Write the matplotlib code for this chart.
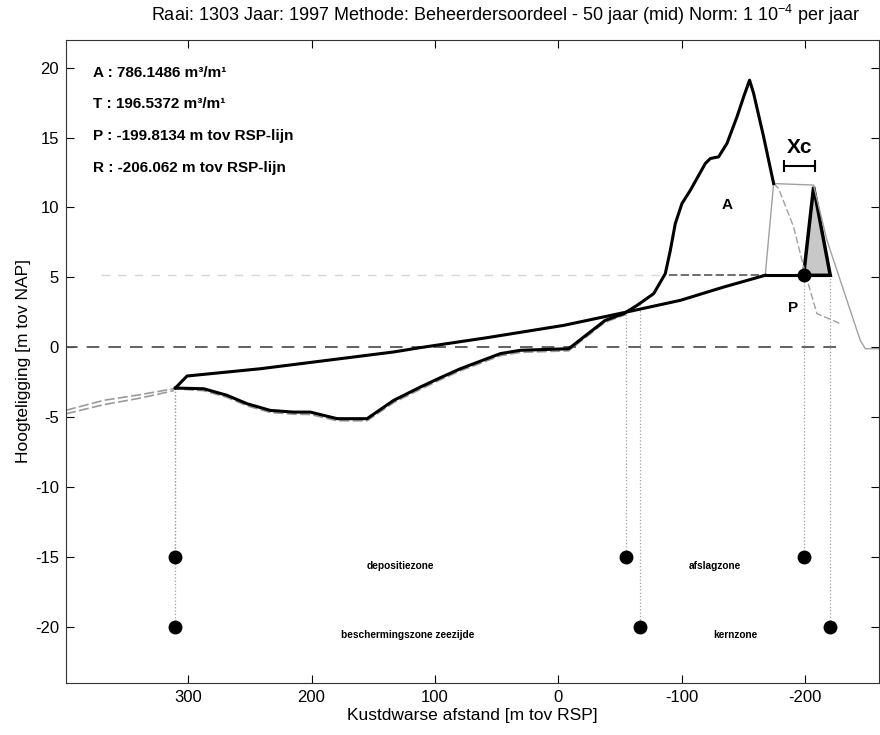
import numpy as np
import matplotlib.pyplot as plt

plt.rcParams["font.family"] = ["Liberation Sans", "DejaVu Sans"]
plt.rcParams["mathtext.fontset"] = "custom"
plt.rcParams["mathtext.rm"] = "Liberation Sans"
plt.rcParams["mathtext.bf"] = "Liberation Sans:bold"
plt.rcParams["axes.unicode_minus"] = False

# gemeten profiel (dik zwart)
prof_x = [310.4, 287.4, 268.5, 252.3, 233.4, 214.5, 201.0, 179.3, 155.0, 133.4,
          111.8, 95.6, 79.4, 47.0, 30.8, -8.4, -38.0, -53.0, -63.8, -77.3,
          -86.7, -90.8, -94.8, -100.2, -107.0, -119.1, -123.2, -129.9, -136.7,
          -144.8, -150.2, -155.0, -158.3, -166.4, -174.5]
prof_y = [-2.91, -2.96, -3.43, -4.03, -4.51, -4.63, -4.63, -5.10, -5.10, -3.79,
          -2.84, -2.17, -1.53, -0.45, -0.21, -0.10, 1.93, 2.41, 3.00, 3.84,
          5.27, 6.94, 8.85, 10.28, 11.23, 13.14, 13.50, 13.62, 14.58,
          16.48, 17.91, 19.10, 18.15, 15.05, 11.71]

# oorspronkelijk profiel (grijs, onder het zwarte)
orig_x = [399, 368.5, 340.0, 311.7, 287.4, 268.5, 252.3, 233.4, 214.5, 201.0,
          179.3, 155.0, 133.4, 111.8, 95.6, 79.4, 47.0, 30.8, -8.4, -38.0, -55.0]
orig_y = [-4.50, -3.79, -3.40, -2.96, -3.10, -3.58, -4.18, -4.66, -4.78, -4.80,
          -5.25, -5.25, -3.95, -3.00, -2.32, -1.68, -0.60, -0.36, -0.25, 1.80, 2.35]
orig2_x = [399, 368.5, 340.0, 311.7]
orig2_y = [-4.75, -4.10, -3.65, -3.10]

# achterkant duin (grijs gestreept)
back_x = [-174.5, -178.5, -190.7, -200.2, -209.6, -228.5]
back_y = [11.71, 11.36, 8.61, 5.27, 2.41, 1.70]

# grensprofiel (grijs)
grens_x = [-167.7, -174.5, -206.9, -217.7, -244.7, -248.8, -262.0]
grens_y = [5.15, 11.71, 11.60, 7.66, 0.50, -0.10, -0.10]

# DUROS afslagprofiel (dik zwart)
duros_x = [310.4, 300.9, 241.5, 187.4, 133.4, 111.8, 57.8, -4.3, -55.7, -98.9,
           -134.0, -167.7]
duros_y = [-2.91, -2.05, -1.53, -0.93, -0.33, -0.02, 0.69, 1.57, 2.53, 3.36,
           4.31, 5.15]

rekenpeil = 5.15
afslag_x = [-167.7, -220.4]
tri_x = [-198.8, -206.9, -220.4]
tri_y = [5.15, 11.47, 5.15]
P_x, R_x = -198.8, -220.4
xc_left, xc_right, xc_y = -182.6, -208.3, 12.97

# zone grenzen
zone_top_x = [310.4, -54.5, -198.8]
zone_top_start = [-2.91, 2.4, 5.15]
zone_bot_x = [310.4, -66.5, -220.4]
zone_bot_start = [-2.91, 3.1, 5.15]
zone_top_labels = ["depositiezone", "afslagzone"]
zone_bot_labels = ["beschermingszone zeezijde", "kernzone"]

info = ["A : 786.1486 m³/m¹",
        "T : 196.5372 m³/m¹",
        "P : -199.8134 m tov RSP-lijn",
        "R : -206.062 m tov RSP-lijn"]
info_y = [19.6, 17.4, 15.1, 12.8]

fig = plt.figure(figsize=(8.8, 7.35), dpi=100)
ax = fig.add_axes([0.075, 0.0707, 0.924, 0.8754])

# hulplijnen
ax.plot([400, -228.5], [0, 0], color="#555555", lw=1.3, dashes=(7, 5))
ax.plot([371, -89.4], [rekenpeil, rekenpeil], color="#d5d5d5", lw=1, dashes=(6, 6))
ax.plot([-89.4, -167.7], [rekenpeil, rekenpeil], color="#555555", lw=1.2, dashes=(5, 2))

# grijze profielen
ax.plot(orig_x, orig_y, color="#9a9a9a", lw=1.2, dashes=(6, 2))
ax.plot(orig2_x, orig2_y, color="#9a9a9a", lw=1.2, dashes=(6, 2))
ax.plot(back_x, back_y, color="#a0a0a0", lw=1, dashes=(5, 2))
ax.plot(grens_x, grens_y, color="#a0a0a0", lw=1)

# verticale stippellijnen
for x0, y0 in zip(zone_top_x, zone_top_start):
    ax.plot([x0, x0], [y0, -15], color="#a0a0a0", lw=0.9, ls=":")
for x0, y0 in zip(zone_bot_x, zone_bot_start):
    ax.plot([x0, x0], [y0, -20], color="#a0a0a0", lw=0.9, ls=":")

# zwarte profielen
ax.plot(duros_x, duros_y, color="black", lw=2.2)
ax.plot(prof_x, prof_y, color="black", lw=2.2)
ax.plot(afslag_x, [rekenpeil, rekenpeil], color="black", lw=2.2)
ax.fill(tri_x, tri_y, facecolor="#c8c8c8", edgecolor="black", lw=2.5)
ax.plot([P_x], [rekenpeil], "o", color="black", ms=9)

# Xc
ax.plot([xc_left, xc_right], [xc_y, xc_y], color="black", lw=1.5,
        marker="|", ms=8, mew=1.5)
ax.text((xc_left + xc_right) / 2, 14.3, "Xc", ha="center", va="center",
        fontsize=15, fontweight="bold")
ax.text(-137, 10.2, "A", ha="center", va="center", fontsize=11, fontweight="bold")
ax.text(-190.5, 2.8, "P", ha="center", va="center", fontsize=11, fontweight="bold")

# zones
ax.plot(zone_top_x, [-15] * 3, "o", color="black", ms=9, ls="none")
ax.plot(zone_bot_x, [-20] * 3, "o", color="black", ms=9, ls="none")
for i, lab in enumerate(zone_top_labels):
    ax.text((zone_top_x[i] + zone_top_x[i + 1]) / 2, -15.6, lab, ha="center",
            va="center", fontsize=7.3, fontweight="bold")
for i, lab in enumerate(zone_bot_labels):
    ax.text((zone_bot_x[i] + zone_bot_x[i + 1]) / 2, -20.6, lab, ha="center",
            va="center", fontsize=7.3, fontweight="bold")

for s, y in zip(info, info_y):
    ax.text(377, y, s, ha="left", va="center", fontsize=11, fontweight="bold")

ax.set_xlim(399, -260)
ax.set_ylim(-24, 22)
ax.set_xticks([300, 200, 100, 0, -100, -200])
ax.set_yticks(np.arange(-20, 21, 5))
ax.tick_params(direction="in", top=True, right=True, labelsize=12, length=6,
               pad=5)
for sp in ax.spines.values():
    sp.set_color("#333333")
ax.set_xlabel("Kustdwarse afstand [m tov RSP]", fontsize=12.5, labelpad=2)
ax.set_ylabel("Hoogteligging [m tov NAP]", fontsize=12.5, labelpad=3)

fig.text(0.574, 0.979,
         r"Raai: 1303 Jaar: 1997 Methode: Beheerdersoordeel - 50 jaar (mid) Norm: 1 10$^{-4}$ per jaar",
         ha="center", va="center", fontsize=13)

fig.savefig("out.png", dpi=100)
